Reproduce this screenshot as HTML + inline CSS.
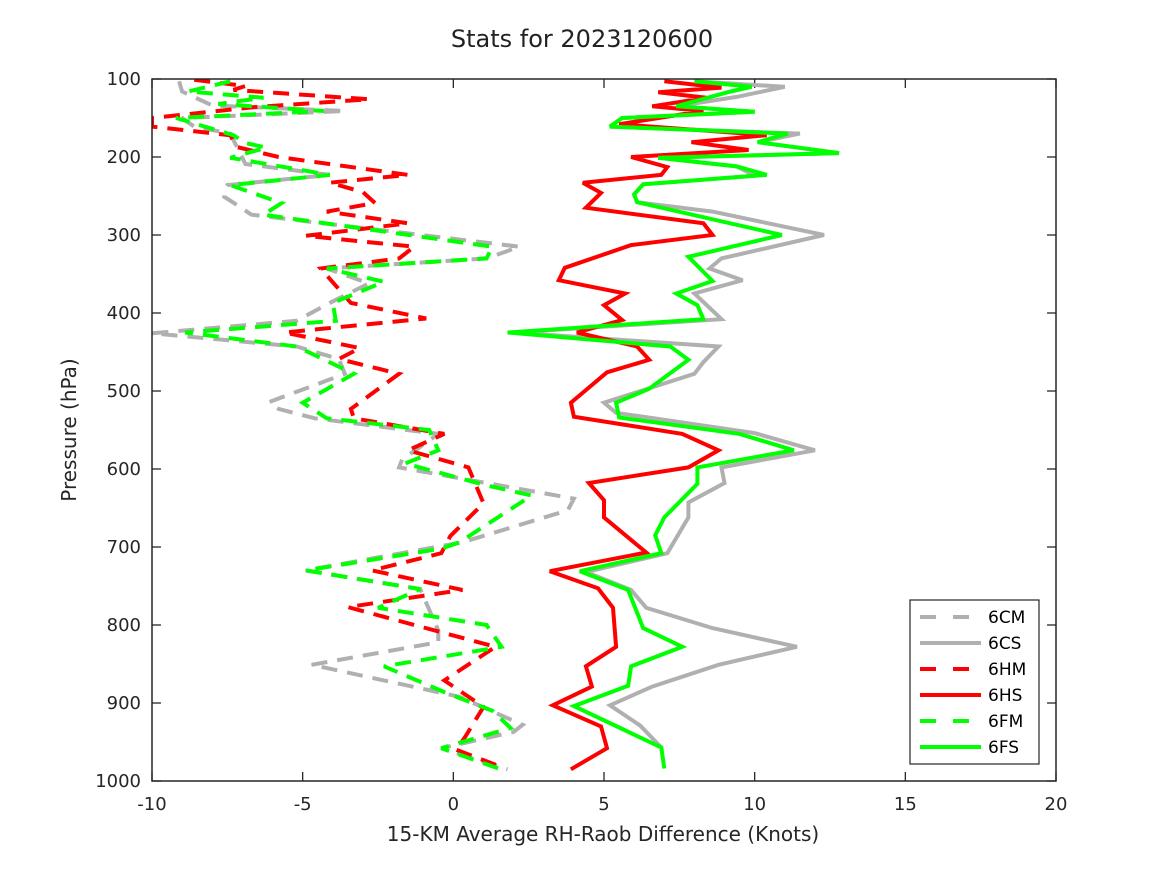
<!DOCTYPE html>
<html><head><meta charset="utf-8"><style>
body{margin:0;background:#fff;}
svg{display:block;font-family:"DejaVu Sans","Liberation Sans",sans-serif;}
</style></head><body>
<svg id="chart" width="1167" height="875" viewBox="0 0 1167 875">
<defs><clipPath id="clip"><rect x="152" y="79" width="904" height="702"/></clipPath></defs>
<rect x="0" y="0" width="1167" height="875" fill="#fff"/>
<text x="582" y="47" font-size="24" text-anchor="middle" fill="#222">Stats for 2023120600</text>
<g id="axes"></g>
<g id="series" clip-path="url(#clip)"></g>
<rect x="152" y="79" width="904" height="702" fill="none" stroke="#262626" stroke-width="1.5"/>
<text x="603" y="841" font-size="20" text-anchor="middle" fill="#262626">15-KM Average RH-Raob Difference (Knots)</text>
<text x="0" y="0" font-size="20" text-anchor="middle" fill="#262626" transform="translate(76,430) rotate(-90)">Pressure (hPa)</text>
<g id="legend"></g>
</svg>
<script>
const xTicks=[-10,-5,0,5,10,15,20];
const yTicks=[100,200,300,400,500,600,700,800,900,1000];
const seriesNames=["6CM","6CS","6HM","6HS","6FM","6FS"];

const cmP=[103,116,134,141,150,161,170,209,223,236,251,261,274,315,330,343,362,387,410,426,443,459,478,514,523,535,555,588,598,638,653,694,730,754,807,822,851,892,928,937,958,985];
const cmV=[-9.1,-9.0,-8.0,-3.6,-9.0,-8.6,-7.4,-6.9,-4.1,-7.5,-7.6,-7.2,-6.7,2.2,1.1,-4.2,-2.8,-4.1,-5.2,-10,-5.2,-3.8,-3.6,-6.1,-5.8,-4.6,-0.5,-1.7,-1.8,4.0,3.8,0.3,-4.9,-1.1,-0.5,-0.5,-4.7,0.2,2.3,2.0,-0.4,1.8];

const csP=[103,110,123,135,142,150,161,170,181,195,201,212,224,235,248,258,270,300,330,343,358,375,408,425,443,463,478,515,528,554,576,598,618,643,662,708,732,755,778,804,828,851,879,903,929,957];
const csV=[8.0,11.0,9.4,7.4,10.0,5.6,5.2,11.5,10.1,12.8,6.8,9.4,10.0,6.3,6.0,6.1,8.6,12.3,8.9,8.5,9.6,8.0,8.9,2.0,8.8,8.3,8.0,5.0,5.4,10.0,12.0,8.9,9.0,7.8,7.8,7.1,4.4,5.9,6.4,8.6,11.4,8.8,6.6,5.2,6.2,6.9];

const hmP=[101,109,114,126,136,150,161,172,187,200,223,233,245,259,270,285,301,315,330,343,387,407,425,445,459,478,523,535,555,576,598,644,686,708,730,755,777,828,871,905,943,960,982];
const hmV=[-8.6,-6.9,-7.3,-2.8,-6.6,-10,-10,-7.4,-7.2,-5.8,-1.5,-4.1,-3.0,-2.6,-4.2,-1.5,-4.9,-1.3,-1.8,-4.4,-3.4,-0.9,-5.6,-3.1,-3.8,-1.8,-3.4,-3.3,-0.3,-1.5,0.5,1.0,-0.1,-0.4,-2.7,0.3,-3.5,1.4,-0.3,1.0,0.4,0.1,1.6];

const hsP=[103,111,117,124,135,141,158,172,181,191,200,213,223,233,246,265,285,300,313,342,358,375,390,409,425,443,460,476,515,533,555,576,598,618,640,662,707,731,753,778,828,853,879,903,930,958,985];
const hsV=[7.0,8.9,6.8,8.4,6.6,8.3,5.5,10.4,7.9,9.8,5.9,7.1,6.9,4.3,4.9,4.4,8.3,8.6,5.9,3.7,3.5,5.7,5.0,5.6,4.1,6.1,6.5,5.1,3.9,4.0,7.6,8.8,7.8,4.5,5.0,5.0,6.4,3.2,4.8,5.3,5.4,4.4,4.6,3.3,4.9,5.1,3.9];

const fmP=[103,116,124,132,141,150,172,182,188,201,223,236,259,274,315,330,343,360,387,410,425,443,478,515,535,550,576,593,621,634,694,702,730,754,778,800,828,853,886,910,932,958,984];
const fmV=[-7.4,-8.8,-6.3,-7.8,-4.3,-9.2,-7.3,-6.9,-6.2,-7.4,-4.1,-7.4,-5.7,-6.3,1.3,1.1,-4.2,-2.3,-4.0,-3.9,-8.9,-5.2,-3.3,-5.0,-4.2,-0.8,-0.5,-1.6,1.1,2.6,0.2,-0.4,-4.9,-1.1,-2.5,1.1,1.6,-2.3,-0.3,1.3,1.9,-0.4,1.5];

const fsP=[103,110,116,135,142,150,161,170,181,195,201,212,223,235,248,258,300,328,359,375,390,408,425,443,460,497,515,534,555,576,598,619,662,685,708,731,755,804,828,853,878,904,957,984];
const fsV=[8.0,9.9,9.2,7.4,10.0,5.6,5.2,11.1,10.1,12.8,6.8,9.4,10.4,6.3,6.0,6.1,10.9,7.8,8.6,7.4,8.1,8.3,1.8,7.2,7.8,6.5,5.4,5.5,9.5,11.3,8.1,8.1,7.0,6.7,6.9,4.2,5.8,6.3,7.6,5.9,5.8,4.0,6.9,7.0];

const X0=152,X1=1056,Y0=79,Y1=781;
function xs(v){return X0+(v-(-10))/(30)*(X1-X0);}
function ys(p){return Y0+(p-100)/900*(Y1-Y0);}
const NS="http://www.w3.org/2000/svg";
function mk(tag,attrs,parent){const e=document.createElementNS(NS,tag);for(const k in attrs)e.setAttribute(k,attrs[k]);parent.appendChild(e);return e;}

const axes=document.getElementById('axes');
xTicks.forEach(t=>{
  const x=xs(t);
  let l=mk('line',{x1:x,x2:x,y1:Y1,y2:Y1-9,stroke:'#262626','stroke-width':1.3},axes);
  
  
  let l2=mk('line',{x1:x,x2:x,y1:Y0,y2:Y0+9,stroke:'#262626','stroke-width':1.3},axes);
  
  
  let tx=mk('text',{x:x,y:810,'font-size':18,'text-anchor':'middle',fill:'#262626'},axes);
  tx.textContent=t;
  
  
});
yTicks.forEach(t=>{
  const y=ys(t);
  let l=mk('line',{x1:X0,x2:X0+9,y1:y,y2:y,stroke:'#262626','stroke-width':1.3},axes);
  
  
  let l2=mk('line',{x1:X1,x2:X1-9,y1:y,y2:y,stroke:'#262626','stroke-width':1.3},axes);
  
  
  let tx=mk('text',{x:141,y:y+6,'font-size':18,'text-anchor':'end',fill:'#262626'},axes);
  tx.textContent=t;
  
  
});

const styles={"6CM":["#b0b0b0",true],"6CS":["#b0b0b0",false],"6HM":["#ff0000",true],"6HS":["#ff0000",false],"6FM":["#00ff00",true],"6FS":["#00ff00",false]};
const dataMap={"6CM":[cmP,cmV],"6CS":[csP,csV],"6HM":[hmP,hmV],"6HS":[hsP,hsV],"6FM":[fmP,fmV],"6FS":[fsP,fsV]};
const sg=document.getElementById('series');
seriesNames.forEach(n=>{
  const [P,V]=dataMap[n];const [c,d]=styles[n];
  const pts=P.map((p,i)=>xs(V[i]).toFixed(1)+','+ys(p).toFixed(1)).join(' ');
  const a={points:pts,fill:'none',stroke:c,'stroke-width':4,'stroke-linejoin':'miter','stroke-miterlimit':3};
  if(d)a['stroke-dasharray']='16,10';
  const pl=mk('polyline',a,sg);
  
  
});

const lg=document.getElementById('legend');
const box=mk('rect',{x:910,y:600,width:129,height:164,fill:'#fff',stroke:'#262626','stroke-width':1.2},lg);


seriesNames.forEach((n,i)=>{
  const y=617+i*26;const [c,d]=styles[n];
  const a={x1:920,x2:981,y1:y,y2:y,stroke:c,'stroke-width':4};
  if(d)a['stroke-dasharray']='16,17';
  const ln=mk('line',a,lg);
  
  
  const t=mk('text',{x:988,y:y+6,'font-size':17,fill:'#000'},lg);
  t.textContent=n;
  
  
});
</script>
</body></html>
